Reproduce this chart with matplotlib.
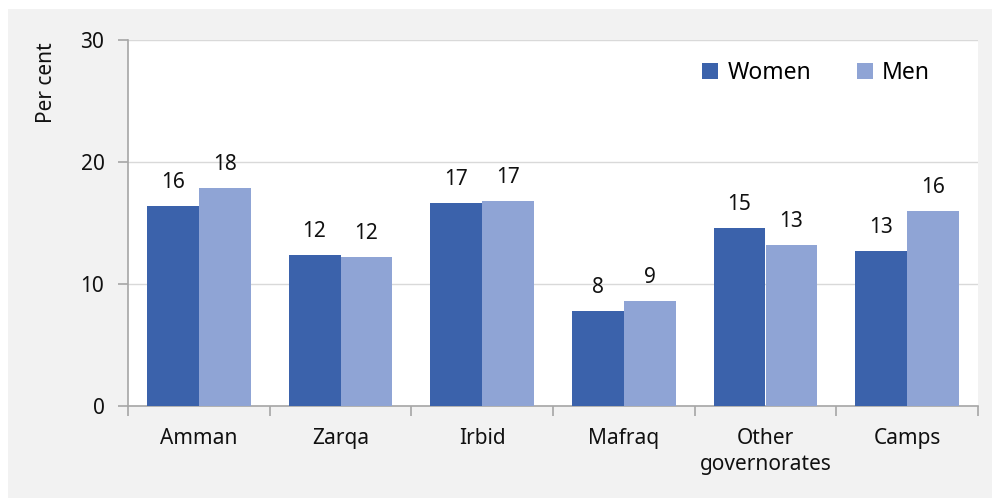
import numpy as np
import matplotlib
matplotlib.use('Agg')
from matplotlib import pyplot as plt
from matplotlib.patches import Rectangle


REGIONS = ['Amman', 'Zarqa', 'Irbid', 'Mafraq', 'Other\ngovernorates', 'Camps']
WOMEN = [16.4, 12.4, 16.6, 7.8, 14.6, 12.7]
MEN = [17.9, 12.2, 16.8, 8.6, 13.2, 16.0]
WOMEN_LABELS = ['16', '12', '17', '8', '15', '13']
MEN_LABELS = ['18', '12', '17', '9', '13', '16']
Y_TICKS = [0, 10, 20, 30]

WOMEN_COLOR = '#3b62ab'
MEN_COLOR = '#8fa4d5'
AXIS_COLOR = '#a6a6a6'
GRID_COLOR = '#d9d9d9'

plt.rcParams['font.family'] = ['Noto Sans', 'DejaVu Sans']

W, H = 992, 498
fig = plt.figure(figsize=(W / 100, H / 100), dpi=100)
fig.patch.set_facecolor('white')
# grey panel behind the chart, leaves a thin white margin top/left
fig.patches.append(Rectangle((8 / W, 0), 1 - 8 / W, 1 - 9 / H,
                             transform=fig.transFigure, facecolor='#f2f2f2',
                             edgecolor='none', zorder=-5))

ax = fig.add_axes([128 / W, (H - 406) / H, 850 / W, 366 / H])
ax.set_facecolor('white')

x = np.arange(len(REGIONS))
bw = 0.367
b1 = ax.bar(x - bw / 2, WOMEN, bw, color=WOMEN_COLOR, label='Women', zorder=3)
b2 = ax.bar(x + bw / 2, MEN, bw, color=MEN_COLOR, label='Men', zorder=3)

for bars, labels in ((b1, WOMEN_LABELS), (b2, MEN_LABELS)):
    for rect, lab in zip(bars, labels):
        ax.annotate(lab, (rect.get_x() + rect.get_width() / 2, rect.get_height()),
                    xytext=(0, 13), textcoords='offset points',
                    ha='center', va='baseline', fontsize=15, color='#111111')

ax.set_xlim(-0.5, len(REGIONS) - 0.5)
ax.set_ylim(0, 30)
ax.set_yticks(Y_TICKS)
ax.set_xticks(x)
ax.set_xticklabels(REGIONS, fontsize=15, linespacing=1.3)
ax.set_xticks(np.arange(len(REGIONS) + 1) - 0.5, minor=True)
ax.tick_params(axis='x', which='major', length=0, pad=16, colors='#111111')
ax.tick_params(axis='x', which='minor', length=7, color=AXIS_COLOR, width=1.2)
ax.tick_params(axis='y', length=7, color=AXIS_COLOR, width=1.2, pad=10,
               labelsize=15, labelcolor='#111111')

ax.grid(axis='y', color=GRID_COLOR, linewidth=1, zorder=0)
for side in ('top', 'right'):
    ax.spines[side].set_visible(False)
for side in ('left', 'bottom'):
    ax.spines[side].set_color(AXIS_COLOR)
    ax.spines[side].set_linewidth(1.2)

fig.text(46 / W, 1 - 83 / H, 'Per cent', rotation=90, ha='center', va='center',
         fontsize=15, color='#111111')

ax.legend(loc='upper right', bbox_to_anchor=(0.968, 1.0), ncol=2, frameon=False,
          fontsize=16.5, handlelength=0.7, handleheight=0.7, handletextpad=0.4,
          columnspacing=2.0)

fig.savefig('out.png', dpi=100)
